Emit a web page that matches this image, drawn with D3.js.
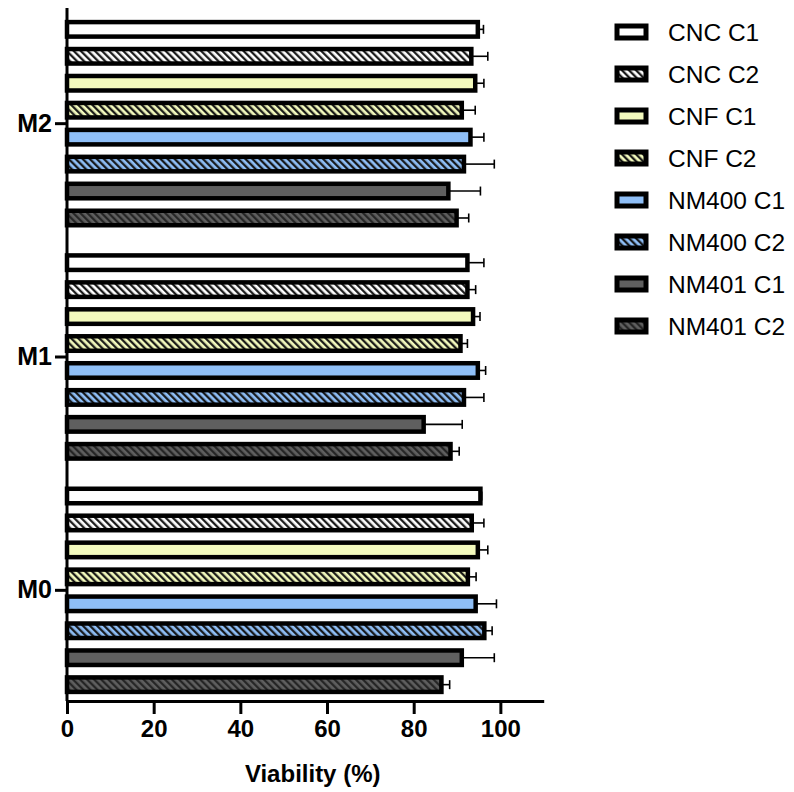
<!DOCTYPE html>
<html>
<head>
<meta charset="utf-8">
<script src="https://cdn.jsdelivr.net/npm/d3@7"></script>
<style>
  body { margin: 0; background: #fff; }
  svg { font-family: "Liberation Sans", Arial, sans-serif; }
</style>
</head>
<body>
<script>
/*--- data ---*/
let groups = ["M0", "M1", "M2"];
let series = ["CNC C1", "CNC C2", "CNF C1", "CNF C2", "NM400 C1", "NM400 C2", "NM401 C1", "NM401 C2"];
let fills = ["#ffffff", "#ffffff", "#f3fabd", "#f3fabd", "#8fbff7", "#8fbff7", "#5f5f5f", "#5f5f5f"];
let hatched = [false, true, false, true, false, true, false, true];

// mean viability per series, one array per group
let meanM0 = [95.4, 93.4, 94.8, 92.5, 94.3, 96.3, 91.1, 86.4];
let meanM1 = [92.4, 92.4, 93.7, 90.8, 94.8, 91.6, 82.3, 88.5];
let meanM2 = [94.8, 93.3, 94.2, 91.1, 93.1, 91.6, 88.0, 89.9];
// error (upper SD)
let errM0 = [0.3, 2.8, 2.3, 1.9, 4.8, 1.8, 7.5, 1.9];
let errM1 = [3.8, 1.9, 1.6, 1.6, 1.8, 4.6, 8.9, 2.0];
let errM2 = [1.3, 3.8, 2.0, 3.1, 3.1, 7.0, 7.4, 2.8];

let xTicks = [0, 20, 40, 60, 80, 100];

/*--- layout ---*/
let width = 794, height = 792;
let x0 = 67, xEnd = 543.7;
let axisY = 701;

let svg = d3.select("body").append("svg")
    .attr("width", width)
    .attr("height", height);

let X = d3.scaleLinear().domain([0, 110]).range([x0, xEnd]);
let Yg = d3.scaleBand().domain(groups).range([707, 7]);
let Ys = d3.scaleBand().domain(series).range([0, Yg.bandwidth()])
    .paddingInner(0.462).paddingOuter(0.56);

// hatch patterns
let defs = svg.append("defs");
series.forEach(function(s, i) {
    if (!hatched[i]) return;
    let p = defs.append("pattern")
        .attr("id", "hatch" + i)
        .attr("patternUnits", "userSpaceOnUse")
        .attr("width", 5).attr("height", 5)
        .attr("patternTransform", "rotate(-45)");
    p.append("rect").attr("width", 5).attr("height", 5).attr("fill", fills[i]);
    p.append("line")
        .attr("x1", 1.2).attr("x2", 1.2).attr("y1", 0).attr("y2", 5)
        .attr("stroke", i == 7 ? "#222" : "#111")
        .attr("stroke-width", 2.2);
});
function fillOf(i) { return hatched[i] ? "url(#hatch" + i + ")" : fills[i]; }

let table = [];
let means = {M0: meanM0, M1: meanM1, M2: meanM2};
let errs = {M0: errM0, M1: errM1, M2: errM2};
groups.forEach(function(g) {
    series.forEach(function(s, i) {
        table.push({g: g, s: s, i: i, v: means[g][i], e: errs[g][i]});
    });
});

let plot = svg.append("g");

// error bars (drawn under bars)
let eb = plot.selectAll(".err").data(table).enter().append("g").attr("class", "err");
eb.append("line")
    .attr("x1", d => X(d.v)).attr("x2", d => X(d.v + d.e))
    .attr("y1", d => Yg(d.g) + Ys(d.s) + Ys.bandwidth() / 2)
    .attr("y2", d => Yg(d.g) + Ys(d.s) + Ys.bandwidth() / 2)
    .attr("stroke", "#000").attr("stroke-width", 1.6);
eb.append("line")
    .attr("x1", d => X(d.v + d.e)).attr("x2", d => X(d.v + d.e))
    .attr("y1", d => Yg(d.g) + Ys(d.s) + Ys.bandwidth() / 2 - 4.5)
    .attr("y2", d => Yg(d.g) + Ys(d.s) + Ys.bandwidth() / 2 + 4.5)
    .attr("stroke", "#000").attr("stroke-width", 1.6);

plot.selectAll(".bar").data(table).enter().append("rect")
    .attr("class", "bar")
    .attr("x", X(0))
    .attr("y", d => Yg(d.g) + Ys(d.s))
    .attr("width", d => X(d.v) - X(0))
    .attr("height", Ys.bandwidth())
    .attr("fill", d => fillOf(d.i))
    .attr("stroke", "#000")
    .attr("stroke-width", 4.5);

// axes
let xAxis = svg.append("g")
    .attr("transform", "translate(0," + axisY + ")")
    .call(d3.axisBottom(X).tickValues(xTicks).tickSize(13).tickSizeOuter(0).tickPadding(6));
xAxis.select(".domain").attr("stroke-width", 3);
xAxis.selectAll(".tick line").attr("stroke-width", 3);
xAxis.selectAll("text")
    .attr("font-size", 24).attr("font-weight", "bold")
    .attr("font-family", "Liberation Sans, Arial, sans-serif").attr("fill", "#000");

let yAxis = svg.append("g")
    .attr("transform", "translate(" + x0 + ",0)")
    .call(d3.axisLeft(Yg).tickSize(12).tickSizeOuter(0).tickPadding(3));
yAxis.select(".domain").attr("d", "M0,8V" + axisY).attr("stroke-width", 3);
yAxis.selectAll(".tick line").attr("stroke-width", 3);
yAxis.selectAll("text")
    .attr("font-size", 25).attr("font-weight", "bold")
    .attr("font-family", "Liberation Sans, Arial, sans-serif").attr("fill", "#000");

svg.append("text")
    .attr("x", (X(0) + X(100)) / 2 + 29)
    .attr("y", 782)
    .attr("text-anchor", "middle")
    .attr("font-size", 24).attr("font-weight", "bold")
    .text("Viability (%)");

// legend
let legend = svg.append("g").attr("transform", "translate(617,32)");
let li = legend.selectAll(".li").data(series).enter().append("g")
    .attr("transform", (d, i) => "translate(0," + i * 42 + ")");
li.append("rect")
    .attr("x", 0).attr("y", -6).attr("width", 29).attr("height", 12)
    .attr("fill", (d, i) => fillOf(i))
    .attr("stroke", "#000").attr("stroke-width", 5);
li.append("text")
    .attr("x", 51).attr("y", 0).attr("dy", "0.35em")
    .attr("font-size", 24.5)
    .text(d => d);
</script>
</body>
</html>
